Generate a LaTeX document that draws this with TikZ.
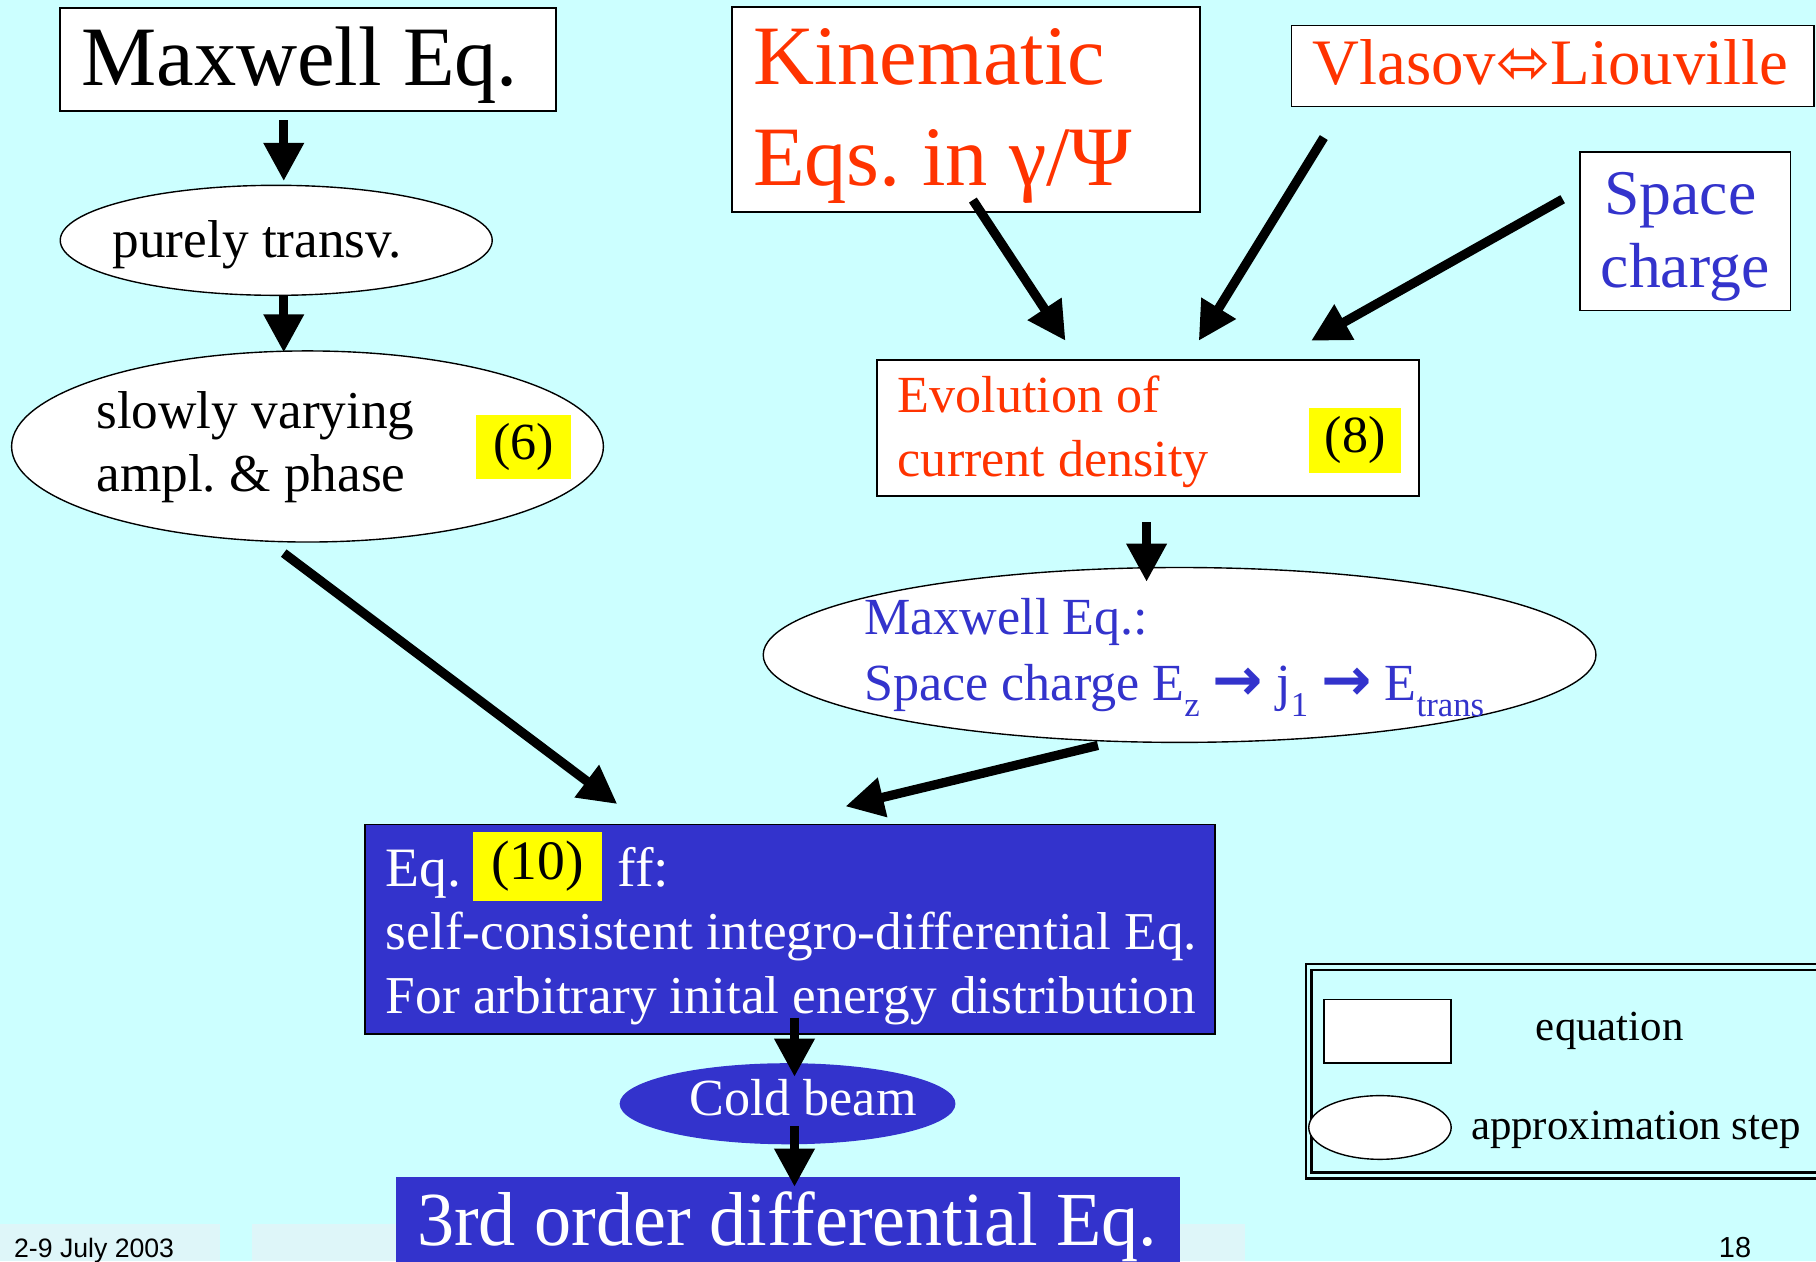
\documentclass[tikz,border=0pt]{standalone}
\usepackage{graphicx}
\usepackage{fontspec}
\setmainfont{Liberation Serif}
\newfontfamily\dejavu{DejaVu Sans}
\newfontfamily\footfont{Liberation Sans}
\usetikzlibrary{shapes.geometric, arrows.meta, calc}
\frenchspacing

\definecolor{slidebg}{RGB}{204,255,255}
\definecolor{eqblue}{RGB}{51,51,204}
\definecolor{eqred}{RGB}{255,51,0}
\definecolor{tagyellow}{RGB}{255,255,0}
\definecolor{footgrey}{RGB}{222,246,249}

\newcommand{\setfs}[1]{\fontsize{#1}{#1}\selectfont}
\newcommand{\lowsub}[1]{\raisebox{-0.3em}{\setfs{30}#1}}
\newcommand{\fatto}{{\dejavu\bfseries\setfs{52}→}}

\tikzset{
	eqnbox/.style={draw=black, line width=1.5pt, fill=white, inner sep=0pt},
	approxell/.style={ellipse, draw=black, line width=1.2pt, fill=white, inner sep=0pt},
	yellowtag/.style={fill=tagyellow, inner sep=0pt, text=black},
	linetxt/.style={anchor=base west, inner sep=0pt},
	fatarrow/.style={line width=8pt, -{Triangle[length=33pt,width=33pt]}}
}

\begin{document}
\begin{tikzpicture}[x=1pt,y=-1pt]
	\fill[slidebg] (0,0) rectangle (1568,1089);
	\useasboundingbox (0,0) rectangle (1568,1089);
	
	% footer
	\fill[footgrey] (0,1057) rectangle (190,1089);
	\fill[footgrey] (218,1057) rectangle (342,1089);
	\fill[footgrey] (1019,1057) rectangle (1075,1089);
	\node[linetxt, font=\footfont\setfs{23}] (date) at (12,1086) {2-9 July 2003};
	\node[linetxt, font=\footfont\setfs{25}] (pageno) at (1484,1086) {18};
	
	% left branch
	\node[eqnbox, minimum width=428pt, minimum height=89pt] (maxwell) at (266,51.5) {};
	\node[linetxt, font=\setfs{73}] (maxwelltxt) at (70,74) {Maxwell Eq.};
	
	\node[approxell, minimum width=373pt, minimum height=95pt] (purely) at (238.5,207.5) {};
	\node[linetxt, font=\setfs{46}] (purelytxt) at (97,222) {purely transv.};
	
	\node[approxell, minimum width=511pt, minimum height=165pt] (slowly) at (265.5,385.5) {};
	\node[linetxt, font=\setfs{46}] (slowlyA) at (83,370) {slowly varying};
	\node[linetxt, font=\setfs{46}] (slowlyB) at (83,424) {ampl. \& phase};
	\node[yellowtag, minimum width=82pt, minimum height=56pt, font=\setfs{45}] (tagsix) at (452,386) {(6)};
	
	% right branch
	\node[eqnbox, minimum width=404pt, minimum height=177pt] (kin) at (834,94.5) {};
	\node[linetxt, text=eqred, font=\setfs{73}] (kinA) at (650,73) {Kinematic};
	\node[linetxt, text=eqred, font=\setfs{73}] (kinB) at (650,160) {Eqs. in γ/Ψ};
	
	\node[eqnbox, minimum width=451pt, minimum height=70pt] (vlasov) at (1340.5,57) {};
	\node[linetxt, text=eqred, font=\setfs{56}] (vlasovtxt) at (1133,73) {Vlasov{\dejavu ⬄}Liouville};
	
	\node[eqnbox, minimum width=182pt, minimum height=137pt] (space) at (1455,199.5) {};
	\node[linetxt, text=eqblue, font=\setfs{55}] (spaceA) at (1385,185) {Space};
	\node[linetxt, text=eqblue, font=\setfs{55}] (spaceB) at (1382,248) {charge};
	
	\node[eqnbox, minimum width=468pt, minimum height=117pt] (evol) at (991,369.5) {};
	\node[linetxt, text=eqred, font=\setfs{45}] (evolA) at (775,356) {Evolution of};
	\node[linetxt, text=eqred, font=\setfs{45}] (evolB) at (775,411) {current density};
	\node[yellowtag, minimum width=80pt, minimum height=56pt, font=\setfs{45}] (tageight) at (1170,380) {(8)};
	
	\node[approxell, minimum width=719pt, minimum height=151pt] (maxsc) at (1018.5,565.5) {};
	\node[linetxt, text=eqblue, font=\setfs{45}] (maxscA) at (746,548) {Maxwell Eq.:};
	\node[linetxt, text=eqblue, font=\setfs{45}] (maxscB) at (746,605)
		{Space charge E\lowsub{z} \fatto{} j\lowsub{1} \fatto{} E\lowsub{trans}};
	
	% result
	\node[eqnbox, fill=eqblue, minimum width=734pt, minimum height=181pt] (eqten) at (682,802.5) {};
	\node[linetxt, text=white, font=\setfs{48}] (eqtenA) at (333,765) {Eq.};
	\node[yellowtag, minimum width=112pt, minimum height=60pt, font=\setfs{48}] (tagten) at (464,748) {(10)};
	\node[linetxt, text=white, font=\setfs{48}] (eqtenff) at (533,765) {ff:};
	\node[linetxt, text=white, font=\setfs{46}] (eqtenB) at (333,820) {self-consistent integro-differential Eq.};
	\node[linetxt, text=white, font=\setfs{46}] (eqtenC) at (333,875) {For arbitrary inital energy distribution};
	
	\node[ellipse, fill=eqblue, inner sep=0pt, minimum width=290pt, minimum height=70pt] (cold) at (680,953) {};
	\node[linetxt, text=white, font=\setfs{45}] (coldtxt) at (595,963) {Cold beam};
	
	\node[fill=eqblue, inner sep=0pt, minimum width=677pt, minimum height=84pt] (third) at (680.5,1058) {};
	\node[linetxt, text=white, font=\setfs{66}] (thirdtxt) at (360,1075) {\scalebox{0.97}[1]{3rd order differential Eq.}};
	
	% legend
	\draw[line width=2pt, double=slidebg, double distance=3pt] (1130,835) rectangle (1590,1015);
	\node[eqnbox, minimum width=110pt, minimum height=55pt] (legbox) at (1198,890.5) {};
	\node[linetxt, font=\setfs{37}] (legboxtxt) at (1326,898) {equation};
	\node[approxell, minimum width=123pt, minimum height=55pt] (legell) at (1191.5,973.5) {};
	\node[linetxt, font=\setfs{37}] (legelltxt) at (1270,984) {approximation step};
	
	% arrows
	\draw[fatarrow] ($(maxwell.south)+(-21,7)$) -- ($(purely.north)+(6.5,-3)$);
	\draw[fatarrow] ($(purely.south)+(6.5,0)$) -- ($(slowly.north)+(-20.5,2)$);
	\draw[fatarrow] ($(slowly.south)+(-20.5,9)$) -- ($(eqten.north)+(-149,-17)$);
	\draw[fatarrow] ($(kin.south)+(6,-11)$) -- ($(evol.north)+(-71,-16)$);
	\draw[fatarrow] ($(vlasov.south)+(-197.5,26)$) -- ($(evol.north)+(44,-16)$);
	\draw[fatarrow] ($(space.west)+(-14,-27.5)$) -- ($(evol.north)+(141,-16)$);
	\draw[fatarrow] ($(evol.south)+(-1,22)$) -- ($(maxsc.north)+(-28.5,13)$);
	\draw[fatarrow] ($(maxsc.south)+(-70.5,2)$) -- ($(eqten.north)+(48,-15)$);
	\draw[fatarrow] ($(eqten.south)+(4,-15)$) -- ($(cold.north)+(6,12)$);
	\draw[fatarrow] ($(cold.south)+(6,-16)$) -- ($(third.north)+(5.5,9)$);
\end{tikzpicture}
\end{document}
